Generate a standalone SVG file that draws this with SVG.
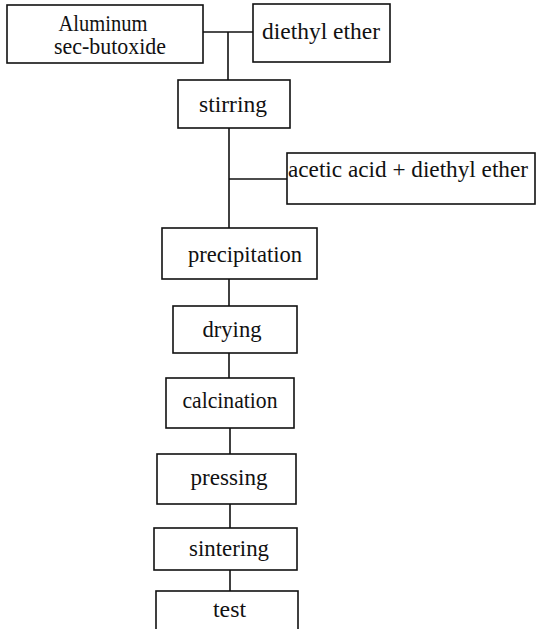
<svg xmlns="http://www.w3.org/2000/svg" width="537" height="629" viewBox="0 0 537 629">
<style>
.box{fill:#fff;stroke:#111;stroke-width:1.6}
.t{font-family:'Liberation Serif','DejaVu Serif','Times New Roman',serif;font-size:23px;fill:#111;text-anchor:middle}
.c{stroke:#111;stroke-width:1.6;fill:none}
</style>
<rect width="537" height="629" fill="#fff"/>
<g id="connectors">
<line class="c" x1="203" y1="32" x2="253" y2="32"/>
<line class="c" x1="228" y1="32" x2="228" y2="80"/>
<line class="c" x1="229" y1="128" x2="229" y2="228"/>
<line class="c" x1="229" y1="179" x2="287" y2="179"/>
<line class="c" x1="229" y1="279" x2="229" y2="306"/>
<line class="c" x1="229" y1="353" x2="229" y2="378"/>
<line class="c" x1="230" y1="428" x2="230" y2="454"/>
<line class="c" x1="230" y1="504" x2="230" y2="528"/>
<line class="c" x1="230" y1="570" x2="230" y2="591"/>
</g>
<g id="aluminum">
<rect class="box" x="7" y="5" width="196" height="58"/>
<text class="t" x="103" y="31" textLength="89" lengthAdjust="spacingAndGlyphs">Aluminum</text>
<text class="t" x="110" y="54" textLength="112" lengthAdjust="spacingAndGlyphs">sec-butoxide</text>
</g>
<g id="diethyl-ether">
<rect class="box" x="253" y="4" width="137" height="58"/>
<text class="t" x="321" y="39" textLength="118" lengthAdjust="spacingAndGlyphs">diethyl  ether</text>
</g>
<g id="stirring">
<rect class="box" x="178" y="80" width="112" height="48"/>
<text class="t" x="233" y="112" textLength="68" lengthAdjust="spacingAndGlyphs">stirring</text>
</g>
<g id="acetic">
<rect class="box" x="287" y="153" width="248" height="51"/>
<text class="t" x="408" y="177" textLength="240" lengthAdjust="spacingAndGlyphs">acetic  acid + diethyl ether</text>
</g>
<g id="precipitation">
<rect class="box" x="162" y="228" width="155" height="51"/>
<text class="t" x="245" y="262" textLength="114" lengthAdjust="spacingAndGlyphs">precipitation</text>
</g>
<g id="drying">
<rect class="box" x="173" y="306" width="124" height="47"/>
<text class="t" x="232" y="337" textLength="59" lengthAdjust="spacingAndGlyphs">drying</text>
</g>
<g id="calcination">
<rect class="box" x="166" y="378" width="128" height="50"/>
<text class="t" x="230" y="408" textLength="95" lengthAdjust="spacingAndGlyphs">calcination</text>
</g>
<g id="pressing">
<rect class="box" x="157" y="454" width="139" height="50"/>
<text class="t" x="229" y="485" textLength="77" lengthAdjust="spacingAndGlyphs">pressing</text>
</g>
<g id="sintering">
<rect class="box" x="154" y="528" width="143" height="42"/>
<text class="t" x="229" y="556" textLength="80" lengthAdjust="spacingAndGlyphs">sintering</text>
</g>
<g id="test">
<rect class="box" x="156" y="591" width="142" height="60"/>
<text class="t" x="229.5" y="617" textLength="33" lengthAdjust="spacingAndGlyphs">test</text>
</g>
</svg>
